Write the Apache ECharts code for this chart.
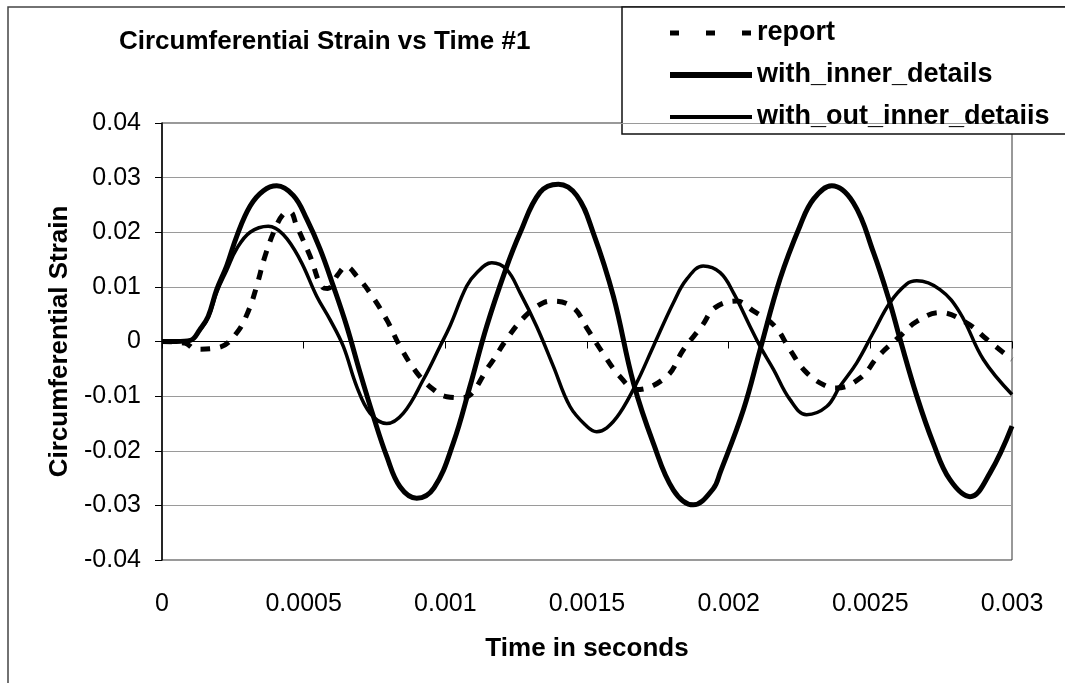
<!DOCTYPE html>
<html>
<head>
<meta charset="utf-8">
<script src="https://cdn.jsdelivr.net/npm/echarts@6/dist/echarts.min.js"></script>
<style>
  html, body { margin: 0; padding: 0; background: #fff; }
  #chart { width: 1065px; height: 683px; }
</style>
</head>
<body>
<div id="chart"></div>
<script>
// Time axis (seconds) and strain readings for each model
const innerT = [0, 0.00005, 0.0001, 0.000134, 0.000163, 0.000193, 0.000228, 0.000264, 0.000311, 0.000358,
  0.000405, 0.000464, 0.000511, 0.000558, 0.000605, 0.000652, 0.000699, 0.000746, 0.000793, 0.00084,
  0.000899, 0.00096, 0.001028, 0.001087, 0.001146, 0.001211, 0.001264, 0.001334, 0.001399, 0.001464,
  0.001522, 0.001593, 0.001664, 0.001734, 0.001805, 0.001875, 0.001945, 0.00197, 0.002052, 0.002111,
  0.002181, 0.002252, 0.0023, 0.002364, 0.00244, 0.002511, 0.002569, 0.002605, 0.002664, 0.002722,
  0.002781, 0.002852, 0.002922, 0.003];
const innerV = [0, 0, 0.0002, 0.0022, 0.0046, 0.0095, 0.0138, 0.0193, 0.0248, 0.0276,
  0.0285, 0.0267, 0.0224, 0.0169, 0.0101, 0.0028, -0.0057, -0.0137, -0.021, -0.0266,
  -0.0287, -0.0268, -0.0186, -0.0082, 0.0028, 0.0129, 0.0199, 0.0273, 0.0288, 0.0267,
  0.0199, 0.0083, -0.0076, -0.0186, -0.0272, -0.0299, -0.027, -0.0240, -0.0125, -0.0015,
  0.0114, 0.0212, 0.0261, 0.0285, 0.0254, 0.0163, 0.0071, 0.0004, -0.01, -0.0186,
  -0.0253, -0.0284, -0.0241, -0.0155];

const outerT = [0, 0.00005, 0.0001, 0.000134, 0.000163, 0.000193, 0.000228, 0.000264, 0.000311, 0.000375,
  0.000428, 0.000487, 0.000546, 0.000593, 0.00064, 0.000687, 0.000734, 0.000793, 0.000852, 0.000922,
  0.000981, 0.001016, 0.001075, 0.001111, 0.001164, 0.001216, 0.001264, 0.001322, 0.001381, 0.00144,
  0.001499, 0.001534, 0.00157, 0.001616, 0.001675, 0.001734, 0.001805, 0.001852, 0.00191, 0.00197,
  0.002017, 0.002075, 0.002111, 0.002158, 0.002216, 0.002275, 0.002346, 0.002393, 0.002452, 0.00251,
  0.002569, 0.002628, 0.002664, 0.002746, 0.002816, 0.002899, 0.003];
const outerV = [0, 0, 0.0002, 0.0021, 0.0044, 0.009, 0.013, 0.017, 0.02, 0.0211,
  0.0196, 0.015, 0.0083, 0.004, -0.0009, -0.0082, -0.0131, -0.015, -0.0131, -0.007,
  -0.0009, 0.0028, 0.0101, 0.0126, 0.0144, 0.0132, 0.0089, 0.0028, -0.0045, -0.0119,
  -0.0155, -0.0165, -0.0158, -0.0131, -0.0076, -0.0009, 0.0071, 0.0114, 0.0138, 0.0126,
  0.0089, 0.0028, -0.0009, -0.0051, -0.0106, -0.0134, -0.0119, -0.0082, -0.0039, 0.0016,
  0.0071, 0.0105, 0.0111, 0.0095, 0.0053, -0.0033, -0.0097];

const reportT = [0, 0.00008, 0.00012, 0.0002, 0.000264, 0.000305, 0.000334, 0.000364, 0.000399, 0.000428,
  0.000452, 0.000475, 0.000522, 0.000567, 0.000585, 0.00062, 0.00065, 0.00069, 0.000734, 0.000793,
  0.00084, 0.000899, 0.000958, 0.001005, 0.00106, 0.001158, 0.001216, 0.001281, 0.001346, 0.001381,
  0.001452, 0.001499, 0.001552, 0.001616, 0.001675, 0.001781, 0.00184, 0.001905, 0.001952, 0.002029,
  0.002087, 0.002163, 0.002216, 0.002275, 0.002346, 0.002381, 0.002464, 0.002528, 0.002605, 0.002664,
  0.002746, 0.00284, 0.002911, 0.003];
const reportV = [0, -0.0003, -0.0014, -0.0011, 0.0016, 0.0056, 0.0101, 0.0157, 0.0206, 0.0233,
  0.0237, 0.0212, 0.0157, 0.0099, 0.0097, 0.0122, 0.0137, 0.0118, 0.0089, 0.004,
  -0.0009, -0.0057, -0.0088, -0.0101, -0.0103, -0.0042, 0.0004, 0.0046, 0.0071, 0.0074,
  0.0062, 0.0025, -0.0018, -0.0064, -0.0088, -0.0064, -0.0015, 0.0028, 0.0062, 0.0074,
  0.0056, 0.0028, -0.0015, -0.0057, -0.0082, -0.0085, -0.0067, -0.0027, 0.001, 0.0037,
  0.0053, 0.0034, 0.0004, -0.0033];

const seriesNames = ['report', 'with_inner_details', 'with_out_inner_detaiis'];
const xTicks = { min: 0, max: 0.003, step: 0.0005 };
const yTicks = { min: -0.04, max: 0.04, step: 0.01 };

const zip = (t, v) => t.map((x, i) => [x, v[i]]);
const FONT = '"Liberation Sans", Arial, sans-serif';

const chart = echarts.init(document.getElementById('chart'), null, { renderer: 'canvas' });

chart.setOption({
  animation: false,
  backgroundColor: '#fff',
  title: {
    text: 'Circumferentiai Strain vs Time #1',
    left: 114, top: 24,
    textStyle: { fontFamily: FONT, fontSize: 26, fontWeight: 'bold', color: '#000' }
  },
  legend: {
    orient: 'vertical',
    left: 662, top: 14,
    itemWidth: 82, itemHeight: 14, itemGap: 14,
    itemStyle: { opacity: 0 },
    data: [
      { name: seriesNames[0], lineStyle: { width: 5, type: [9, 27] } },
      { name: seriesNames[1], lineStyle: { width: 6 } },
      { name: seriesNames[2], lineStyle: { width: 4 } }
    ],
    textStyle: { fontFamily: FONT, fontSize: 27, fontWeight: 'bold', color: '#000', lineHeight: 28 }
  },
  grid: {
    left: 162, right: 53, top: 123, bottom: 123,
    show: true, borderColor: '#333', borderWidth: 1, backgroundColor: '#fff'
  },
  xAxis: [{
    type: 'value', min: xTicks.min, max: xTicks.max, interval: xTicks.step,
    position: 'bottom',
    axisLine: { onZero: false, show: false },
    axisTick: { show: false },
    splitLine: { show: false },
    axisLabel: {
      margin: 32, color: '#000', fontFamily: FONT, fontSize: 25,
      formatter: v => String(+v.toFixed(4))
    },
    name: 'Time in seconds', nameLocation: 'middle', nameGap: 76,
    nameTextStyle: { fontFamily: FONT, fontSize: 26, fontWeight: 'bold', color: '#000' }
  }, {
    type: 'value', min: xTicks.min, max: xTicks.max, interval: xTicks.step,
    position: 'bottom',
    axisLine: { onZero: true, show: true, lineStyle: { color: '#000', width: 1 } },
    axisTick: { show: true, inside: false, length: 7, lineStyle: { color: '#000' } },
    axisLabel: { show: false },
    splitLine: { show: false }
  }],
  yAxis: {
    type: 'value', min: yTicks.min, max: yTicks.max, interval: yTicks.step,
    axisLine: { show: true, lineStyle: { color: '#000', width: 1.5 } },
    axisTick: { show: true, length: 7, lineStyle: { color: '#000' } },
    splitLine: { show: true, lineStyle: { color: '#9a9a9a', width: 1 } },
    axisLabel: {
      margin: 21, color: '#000', fontFamily: FONT, fontSize: 25,
      formatter: v => String(+v.toFixed(2))
    },
    name: 'Circumferential Strain', nameLocation: 'middle', nameGap: 40,
    nameTextStyle: { fontFamily: FONT, fontSize: 26, fontWeight: 'bold', color: '#000' }
  },
  graphic: [
    { type: 'polyline', silent: true, z: 0,
      shape: { points: [[8, 690], [8, 7], [1070, 7]] },
      style: { stroke: '#444', lineWidth: 1.5, fill: null } },
    { type: 'rect', silent: true, z: 0,
      shape: { x: 622, y: 7, width: 500, height: 127 },
      style: { stroke: '#111', lineWidth: 1.5, fill: '#fff' } }
  ],
  series: [{
    name: seriesNames[0], type: 'line', xAxisIndex: 0, data: zip(reportT, reportV),
    showSymbol: false, symbol: 'none', smooth: 0.4, z: 3,
    lineStyle: { color: '#000', width: 5, type: [10, 10] },
    itemStyle: { color: '#000' }
  }, {
    name: seriesNames[1], type: 'line', xAxisIndex: 0, data: zip(innerT, innerV),
    showSymbol: false, symbol: 'none', smooth: 0.4, z: 4,
    lineStyle: { color: '#000', width: 5 },
    itemStyle: { color: '#000' }
  }, {
    name: seriesNames[2], type: 'line', xAxisIndex: 0, data: zip(outerT, outerV),
    showSymbol: false, symbol: 'none', smooth: 0.4, z: 4,
    lineStyle: { color: '#000', width: 3.5 },
    itemStyle: { color: '#000' }
  }]
});
</script>
</body>
</html>
